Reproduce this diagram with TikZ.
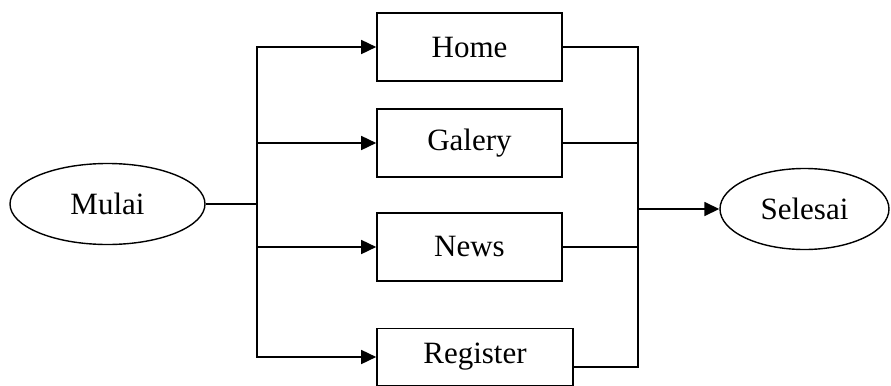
\documentclass[tikz,border=0pt]{standalone}
\usepackage{fontspec}
\setmainfont{Liberation Serif}
\usetikzlibrary{arrows.meta,shapes.geometric}
\tikzset{
  menubox/.style={draw, line width=0.8pt, minimum width=92.5pt, minimum height=34pt, inner sep=0pt},
  terminal/.style={draw, ellipse, line width=0.7pt, minimum height=40.5pt, inner sep=0pt},
  flow/.style={line width=0.8pt}
}
\begin{document}
\begin{tikzpicture}[x=0.5pt, y=-0.5pt, >={Triangle[length=7.5pt,width=7pt]}, font=\fontsize{15.5}{18}\selectfont]
	\useasboundingbox (0,0) rectangle (891,386);
	% start and end
	\node[terminal, minimum width=97.5pt] (mulai) at (107.5,204) {Mulai};
	\node[terminal, minimum width=84.5pt] (selesai) at (804.5,209) {Selesai};
	% the four menu pages
	\node[menubox] (home) at (469.5,47) {Home};
	\node[menubox] (galery) at (469.5,143) {Galery};
	\node[menubox] (news) at (469.5,247) {News};
	\node[menubox, minimum width=98pt, minimum height=28.5pt] (register) at (475,357) {Register};
	% branching and joining points
	\coordinate (split) at (257,204);
	\coordinate (join) at (638,209);
	\draw[flow] (mulai.east) -- (split);
	\foreach \page in {home, galery, news, register}
		\draw[flow, ->] (split) |- (\page);
	\draw[flow] (home.east) -| (join);
	\draw[flow] (galery.east) -| (join);
	\draw[flow] (news.east) -| (join);
	\draw[flow] ([yshift=-5pt]register.east) -| (join);
	\draw[flow, ->] (join) -- (selesai);
\end{tikzpicture}
\end{document}
